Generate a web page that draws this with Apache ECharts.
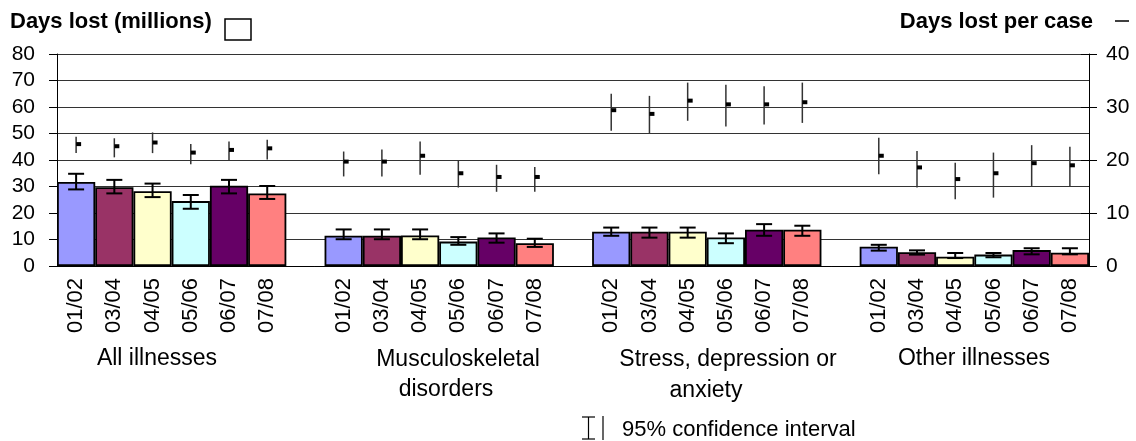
<!DOCTYPE html>
<html>
<head>
<meta charset="utf-8">
<script src="https://cdn.jsdelivr.net/npm/echarts@6/dist/echarts.min.js"></script>
<style>
html,body{margin:0;padding:0;background:#fff;}
#chart{width:1136px;height:441px;}
</style>
</head>
<body>
<div id="chart"></div>
<script>
var periods = ['01/02', '03/04', '04/05', '05/06', '06/07', '07/08'];
var groupNames = ['All illnesses', 'Musculoskeletal disorders', 'Stress, depression or anxiety', 'Other illnesses'];
var periodColors = ['#9999FF', '#993366', '#FFFFCC', '#CCFFFF', '#660066', '#FF8080'];

// Days lost (millions) per group, by period
var daysAll    = [31.7, 29.7, 28.2, 24.5, 30.3, 27.4];
var daysMusc   = [11.4, 11.4, 11.5, 9.2, 10.8, 8.6];
var daysStress = [12.9, 12.9, 12.9, 10.8, 13.7, 13.7];
var daysOther  = [7.3, 5.2, 3.5, 4.3, 6.0, 5.0];
// 95% CI for days lost
var daysLowAll    = [28.9, 27.4, 26.0, 21.6, 27.4, 25.3];
var daysHighAll   = [34.8, 32.5, 31.1, 26.8, 32.5, 30.2];
var daysLowMusc   = [10.1, 10.1, 10.1, 8.0, 8.8, 7.2];
var daysHighMusc  = [13.8, 13.8, 13.8, 10.9, 12.3, 10.3];
var daysLowStress = [11.4, 10.7, 10.7, 8.6, 11.4, 11.4];
var daysHighStress= [14.5, 14.5, 14.5, 12.3, 15.8, 15.2];
var daysLowOther  = [5.8, 4.3, 3.0, 3.3, 4.4, 4.4];
var daysHighOther = [8.0, 5.9, 4.9, 4.9, 6.7, 6.7];

// Days lost per case with 95% CI
var caseAll      = [23.0, 22.6, 23.3, 21.4, 21.9, 22.2];
var caseLowAll   = [21.3, 20.5, 21.3, 19.2, 19.9, 20.1];
var caseHighAll  = [24.4, 24.1, 25.2, 23.0, 23.5, 23.8];
var caseMusc     = [19.7, 19.7, 20.8, 17.5, 16.8, 16.8];
var caseLowMusc  = [16.9, 16.9, 17.2, 14.8, 14.0, 14.0];
var caseHighMusc = [21.6, 22.0, 23.5, 19.9, 19.1, 18.7];
var caseStress     = [29.4, 28.7, 31.2, 30.5, 30.5, 30.9];
var caseLowStress  = [25.5, 25.0, 27.4, 26.3, 26.7, 27.0];
var caseHighStress = [32.5, 32.1, 34.6, 34.2, 33.9, 34.6];
var caseOther     = [20.8, 18.6, 16.4, 17.5, 19.4, 19.0];
var caseLowOther  = [17.3, 14.8, 12.6, 12.9, 15.1, 15.1];
var caseHighOther = [24.2, 21.7, 19.5, 21.4, 22.8, 22.5];

var leftTicks = [0, 10, 20, 30, 40, 50, 60, 70, 80];
var rightTicks = [0, 10, 20, 30, 40];

var daysGroups = [daysAll, daysMusc, daysStress, daysOther];
var daysLowGroups = [daysLowAll, daysLowMusc, daysLowStress, daysLowOther];
var daysHighGroups = [daysHighAll, daysHighMusc, daysHighStress, daysHighOther];
var caseGroups = [caseAll, caseMusc, caseStress, caseOther];
var caseLowGroups = [caseLowAll, caseLowMusc, caseLowStress, caseLowOther];
var caseHighGroups = [caseHighAll, caseHighMusc, caseHighStress, caseHighOther];

var categories = [];
var barData = [];
var daysErr = [];
var caseErr = [];
for (var g = 0; g < 4; g++) {
  for (var i = 0; i < periods.length; i++) {
    var idx = categories.length;
    categories.push(periods[i]);
    barData.push({value: daysGroups[g][i], itemStyle: {color: periodColors[i]}});
    daysErr.push([idx, daysLowGroups[g][i], daysHighGroups[g][i]]);
    caseErr.push([idx, caseGroups[g][i], caseLowGroups[g][i], caseHighGroups[g][i]]);
  }
  if (g < 3) { categories.push(''); barData.push('-'); }
}

var FONT = '"Liberation Sans", Arial, sans-serif';
var chart = echarts.init(document.getElementById('chart'), null, {renderer: 'canvas'});

function renderDaysErr(params, api) {
  var x = api.value(0);
  var pLo = api.coord([x, api.value(1)]);
  var pHi = api.coord([x, api.value(2)]);
  var h = 8;
  var st = {stroke: '#000', lineWidth: 2};
  return {type: 'group', children: [
    {type: 'line', shape: {x1: pHi[0], y1: pHi[1], x2: pLo[0], y2: pLo[1]}, style: st},
    {type: 'line', shape: {x1: pHi[0] - h, y1: pHi[1], x2: pHi[0] + h, y2: pHi[1]}, style: st},
    {type: 'line', shape: {x1: pLo[0] - h, y1: pLo[1], x2: pLo[0] + h, y2: pLo[1]}, style: st}
  ]};
}
function renderCase(params, api) {
  var x = api.value(0);
  var pV = api.coord([x, api.value(1)]);
  var pLo = api.coord([x, api.value(2)]);
  var pHi = api.coord([x, api.value(3)]);
  return {type: 'group', children: [
    {type: 'line', shape: {x1: pHi[0], y1: pHi[1], x2: pLo[0], y2: pLo[1]}, style: {stroke: '#333', lineWidth: 1.5}},
    {type: 'rect', shape: {x: pV[0], y: pV[1] - 2, width: 5, height: 4}, style: {fill: '#000'}}
  ]};
}

var option = {
  animation: false,
  backgroundColor: '#fff',
  textStyle: {fontFamily: FONT},
  grid: {left: 57, right: 47, top: 54, bottom: 175, containLabel: false},
  xAxis: {
    type: 'category',
    data: categories,
    boundaryGap: true,
    axisLine: {show: true, lineStyle: {color: '#000', width: 1}},
    axisTick: {show: false},
    axisLabel: {interval: 0, rotate: 90, fontSize: 22, color: '#000', fontFamily: FONT, margin: 12}
  },
  yAxis: [
    {
      type: 'value', position: 'left', min: 0, max: 80, interval: 10,
      axisLine: {show: true, lineStyle: {color: '#000', width: 1}},
      axisTick: {show: true, length: 8, lineStyle: {color: '#000'}},
      axisLabel: {fontSize: 21, color: '#000', fontFamily: FONT, margin: 22},
      splitLine: {show: true, lineStyle: {color: '#333', width: 1}}
    },
    {
      type: 'value', position: 'right', min: 0, max: 40, interval: 10,
      axisLine: {show: true, lineStyle: {color: '#000', width: 1}},
      axisTick: {show: true, length: 8, lineStyle: {color: '#000'}},
      axisLabel: {fontSize: 21, color: '#000', fontFamily: FONT, margin: 17},
      splitLine: {show: false}
    },
    {
      type: 'value', position: 'right', min: 0, max: 40, interval: 10,
      axisLine: {show: false},
      axisTick: {show: true, inside: true, length: 8, lineStyle: {color: '#000'}},
      axisLabel: {show: false},
      splitLine: {show: false}
    }
  ],
  series: [
    {
      type: 'bar', name: 'Days lost (millions)', yAxisIndex: 0,
      data: barData, barCategoryGap: 0, barGap: 0,
      itemStyle: {borderColor: '#000', borderWidth: 1.8}
    },
    {
      type: 'custom', name: 'CI days', yAxisIndex: 0,
      renderItem: renderDaysErr, data: daysErr, z: 5
    },
    {
      type: 'custom', name: 'Days lost per case', yAxisIndex: 1,
      renderItem: renderCase, data: caseErr, z: 5
    }
  ],
  graphic: [
    {type: 'text', left: 10, top: 11, style: {text: 'Days lost (millions)', font: 'bold 22px ' + FONT, fill: '#000'}},
    {type: 'rect', shape: {x: 225, y: 19, width: 26, height: 21}, style: {fill: '#fff', stroke: '#000', lineWidth: 1.5}},
    {type: 'text', right: 43, top: 11, style: {text: 'Days lost per case', font: 'bold 22px ' + FONT, fill: '#000'}},
    {type: 'line', shape: {x1: 1115, y1: 21, x2: 1129, y2: 21}, style: {stroke: '#000', lineWidth: 1.5}},
    {type: 'text', x: 157, y: 359, style: {text: 'All illnesses', font: '23px ' + FONT, fill: '#000', align: 'center', verticalAlign: 'middle'}},
    {type: 'text', x: 458, y: 360, style: {text: 'Musculoskeletal', font: '23px ' + FONT, fill: '#000', align: 'center', verticalAlign: 'middle'}},
    {type: 'text', x: 446, y: 390, style: {text: 'disorders', font: '23px ' + FONT, fill: '#000', align: 'center', verticalAlign: 'middle'}},
    {type: 'text', x: 728, y: 360, style: {text: 'Stress, depression or', font: '23px ' + FONT, fill: '#000', align: 'center', verticalAlign: 'middle'}},
    {type: 'text', x: 706, y: 391, style: {text: 'anxiety', font: '23px ' + FONT, fill: '#000', align: 'center', verticalAlign: 'middle'}},
    {type: 'text', x: 974, y: 359, style: {text: 'Other illnesses', font: '23px ' + FONT, fill: '#000', align: 'center', verticalAlign: 'middle'}},
    {type: 'line', shape: {x1: 588.5, y1: 417, x2: 588.5, y2: 439}, style: {stroke: '#000', lineWidth: 1.2}},
    {type: 'line', shape: {x1: 582, y1: 417, x2: 595, y2: 417}, style: {stroke: '#000', lineWidth: 1.2}},
    {type: 'line', shape: {x1: 582, y1: 439, x2: 595, y2: 439}, style: {stroke: '#000', lineWidth: 1.2}},
    {type: 'line', shape: {x1: 603, y1: 416, x2: 603, y2: 440}, style: {stroke: '#000', lineWidth: 1.2}},
    {type: 'text', x: 622, y: 430, style: {text: '95% confidence interval', font: '22px ' + FONT, fill: '#000', align: 'left', verticalAlign: 'middle'}}
  ]
};
chart.setOption(option);
</script>
</body>
</html>
